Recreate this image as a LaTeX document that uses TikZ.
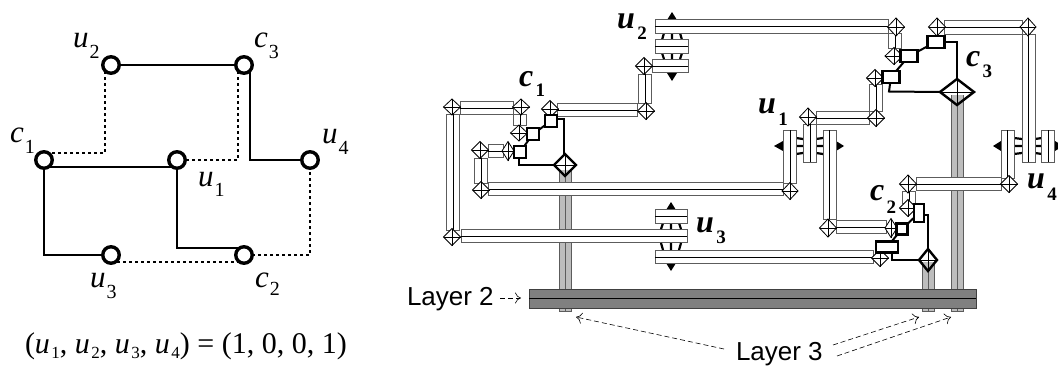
\documentclass[tikz,border=0pt]{standalone}
\usepackage{fontspec}
\setmainfont{Liberation Serif}
\newfontfamily\arialf{Liberation Sans}
\usetikzlibrary{shapes.geometric,arrows.meta}
\definecolor{edgegray}{gray}{0.36}
\definecolor{pillargray}{gray}{0.74}
\definecolor{bargray}{gray}{0.5}
\tikzset{
  x=1pt,y=-1pt,
  every node/.style={inner sep=0pt,outer sep=0pt},
  vertexc/.style={circle,draw=black,fill=white,line width=3.4pt,minimum size=16.5pt},
  solidw/.style={line width=2pt,black},
  dotw/.style={line width=2pt,black,dash pattern=on 3.2pt off 2.8pt},
  wirebox/.style={draw=edgegray,fill=white,line width=1pt},
  wirecore/.style={draw=black,line width=0.9pt},
  viad/.style={diamond,draw=black,fill=white,line width=0.8pt,aspect=1},
  viat/.style={diamond,draw=black,fill=none,line width=2.4pt,aspect=1},
  crossl/.style={draw=black,line width=0.7pt},
  sq/.style={rectangle,draw=black,fill=white,line width=2.3pt},
  thickw/.style={draw=black,line width=2pt},
  link/.style={draw=black,line width=2.2pt},
  tag/.style={anchor=base west},
  lbl/.style={font=\arialf\fontsize{26}{26}\selectfont,anchor=base west},
  dasharrow/.style={draw=black,line width=0.6pt,dash pattern=on 5pt off 3pt,-{To[length=6pt,width=11pt]}},
}
\newcommand\wireH[3]{%
  \draw[wirebox] (#1,#3-6.7) rectangle (#2,#3+6.7);
  \draw[wirecore] (#1,#3) -- (#2,#3);}
\newcommand\wireV[3]{%
  \draw[wirebox] (#1-6.5,#2) rectangle (#1+6.5,#3);
  \draw[wirecore] (#1,#2) -- (#1,#3);}
\newcommand\via[5]{%
  \node[viad,minimum width=#4*2pt,minimum height=#5*2pt] (#1) at (#2,#3) {};
  \draw[crossl] (#1.north) -- (#1.south) (#1.west) -- (#1.east);}
\newcommand\tvia[5]{%
  \node[viat,minimum width=#4*2pt,minimum height=#5*2pt] (#1) at (#2,#3) {};
  \draw[crossl] (#1.north) -- (#1.south) (#1.west) -- (#1.east);}
\newcommand\pillar[3]{%
  \fill[pillargray] (#1-6,#2) rectangle (#1+6,#3);
  \draw[draw=edgegray,line width=0.9pt] (#1-6,#2) -- (#1-6,#3) -- (#1+6,#3) -- (#1+6,#2) (#1,#2) -- (#1,#3);}
\newcommand\linksV[5]{%
  \draw[link] (#1,#2) -- (#1,#3) (#1,#4) -- (#1,#5)
    (#1-8,#2) -- (#1-10,#3) (#1+8,#2) -- (#1+10,#3)
    (#1-10,#4) -- (#1-8,#5) (#1+10,#4) -- (#1+8,#5);}
\newcommand\linksH[5]{%
  \draw[link] (#2,#1) -- (#3,#1) (#4,#1) -- (#5,#1)
    (#2,#1-8) -- (#3,#1-7) (#2,#1+8) -- (#3,#1+7)
    (#4,#1-7) -- (#5,#1-8) (#4,#1+7) -- (#5,#1+8);}
\newcommand\tri[6]{\fill[black] (#1,#2) -- (#3,#4) -- (#5,#6) -- cycle;}
\newcommand\bigtag[6]{%
  \node[tag] (#1) at (#2,#3) {{\fontsize{32}{32}\selectfont\bfseries\itshape #4}\kern2.5pt\raisebox{-#6pt}{\fontsize{19}{19}\selectfont\bfseries #5}};}
\newcommand\smalltag[6]{%
  \node[tag] (#1) at (#2,#3) {{\fontsize{31}{31}\selectfont\itshape #4}\kern1pt\raisebox{-#6pt}{\fontsize{20}{20}\selectfont #5}};}
\newcommand\fu[1]{\textit{u}\kern1.5pt\raisebox{-5pt}{\fontsize{17}{17}\selectfont #1}}
\begin{document}
\begin{tikzpicture}
\useasboundingbox (0,0) rectangle (1058,367);
\clip (0,0) rectangle (1058,367);
\fill[white] (0,0) rectangle (1058,367);

%% ---------- left graph ----------
\coordinate (b1) at (250,160);
\coordinate (b2) at (44,255);
\coordinate (b3) at (177,248);
\coordinate (b4) at (105,153);
\coordinate (b5) at (238,160);
\coordinate (b6) at (310,255);
\coordinate (y1) at (0,167);
\coordinate (y2) at (0,262);
\coordinate (pu2) at (111,65);
\coordinate (pc3) at (244,65);
\coordinate (pc1) at (44,160);
\coordinate (pu1) at (177,160);
\coordinate (pu4) at (310,160);
\coordinate (pu3) at (111,255);
\coordinate (pc2) at (244,255);
\draw[solidw] (pu2) -- (pc3);
\draw[solidw] (pc3 -| b1) -- (b1) -- (pu4);
\draw[solidw] (pc1 |- y1) -- (pu1 |- y1);
\draw[solidw] (pc1) -- (b2) -- (pu3);
\draw[solidw] (pu1) -- (b3) -- (pc2 |- b3);
\draw[dotw] (pu2 -| b4) -- (b4) -- (pc1 |- b4);
\draw[dotw] (pc3 -| b5) -- (b5) -- (pu1);
\draw[dotw] (pu4) -- (b6) -- (pc2);
\draw[dotw] (pu3 |- y2) -- (pc2 |- y2);
\node[vertexc] (u2) at (pu2) {};
\node[vertexc] (c3) at (pc3) {};
\node[vertexc] (c1) at (pc1) {};
\node[vertexc] (u1) at (pu1) {};
\node[vertexc] (u4) at (pu4) {};
\node[vertexc] (u3) at (pu3) {};
\node[vertexc] (c2) at (pc2) {};
\smalltag{tu2}{73}{47}{u}{2}{11}
\smalltag{tc3}{254}{47}{c}{3}{11}
\smalltag{tc1}{10}{142}{c}{1}{11}
\smalltag{tu4}{322}{143}{u}{4}{11}
\smalltag{tu1}{198}{186}{u}{1}{10}
\smalltag{tu3}{90}{287}{u}{3}{11}
\smalltag{tc2}{255}{287}{c}{2}{8}
\node[tag,font=\fontsize{30}{30}\selectfont] (eqn) at (25,353) {(\fu{1}, \fu{2}, \fu{3}, \fu{4}) = (1, 0, 0, 1)};

%% ---------- right layout ----------
\pillar{565}{170}{311}
\pillar{928}{262}{311}
\pillar{957}{95}{311}
\draw[fill=bargray,draw=black!75,line width=0.9pt] (529,289) rectangle (976,308);
\draw[black,line width=0.9pt] (529,298.5) -- (976,298.5);

\wireV{453}{114}{230}
\wireH{460}{513}{108}
\wireV{520}{114}{125}
\wireH{488}{503}{151}
\wireV{481}{158}{183}
\wireH{488}{783}{189}
\wireH{461}{687}{236}
\wireH{557}{637}{110}
\wireV{645}{74}{103}
\wireH{652}{688}{66}
\linksV{672}{33}{40}{53}{59}
\tri{667}{20}{672}{12}{677}{20}
\tri{667}{73}{672}{81}{677}{73}
\wireH{655}{688}{46.5}
\wireH{655}{888}{26.5}
\wireV{895}{33}{48}
\linksV{671}{223}{229}{243}{250}
\tri{666}{210}{671}{202}{676}{210}
\tri{666}{263}{671}{271}{676}{263}
\wireH{655}{687}{216.5}
\wireH{655}{873}{257}
\linksH{146}{796}{803}{816}{823}
\tri{783}{141}{774}{146}{783}{151}
\tri{836}{141}{844}{146}{836}{151}
\wireV{790}{130}{183}
\wireV{810}{124}{162}
\wireV{829.5}{130}{219}
\wireH{816}{869}{118}
\wireV{876}{84}{111}
\wireH{836}{886}{227}
\linksH{146}{1014}{1022}{1035}{1042}
\tri{1001}{141}{993}{146}{1001}{151}
\tri{1055}{141}{1063}{146}{1055}{151}
\wireV{1007.5}{130}{178}
\wireV{1028.5}{34}{162}
\wireV{1048}{130}{162}
\wireH{944}{1022}{27.5}
\wireH{916}{1001}{184}
\wireV{909}{191}{203}

\via{v1}{452}{107}{8.5}{8}
\via{v2}{521}{107}{8.5}{8}
\via{v3}{519}{133}{8.5}{8}
\via{v4}{452}{237}{8.5}{8.5}
\via{v5}{480}{150}{8.5}{8.5}
\via{v6}{508}{151}{6}{9.5}
\via{v7}{481}{190}{8.5}{8.5}
\via{v8}{550}{109}{8.5}{8.5}
\via{v9}{646}{111}{8.5}{8.5}
\via{v10}{644}{66}{8.5}{8.5}
\via{v11}{896}{27}{8.5}{9}
\via{v12}{894}{56}{9}{8.5}
\via{v13}{937}{27}{8.5}{9}
\via{v14}{1028}{27}{8}{9}
\via{v15}{875}{78}{8.5}{8.5}
\via{v16}{876}{118}{8.5}{8.5}
\via{v17}{808}{117}{8.5}{9}
\via{v18}{790}{191}{8}{8.5}
\via{v19}{828}{228}{8.5}{9}
\via{v20}{891}{228}{6}{9.5}
\via{v21}{880}{258}{8.5}{8.5}
\via{v22}{908}{184}{8.5}{9}
\via{v23}{1009}{184}{8.5}{8.5}
\via{v24}{908}{208}{8.5}{8.5}

\tvia{t1}{565}{165}{11}{11}
\coordinate (k1a) at (564,119);
\coordinate (k1b) at (519,165);
\draw[thickw] (551,119) -- (k1a) -- (k1a |- t1.north);
\draw[thickw] (519,152) -- (k1b) -- (t1.west);
\draw[thickw] (551,121) -- (533,134) -- (520,152);
\node[sq,minimum width=12pt,minimum height=12pt] (s1a) at (551,121) {};
\node[sq,minimum width=12pt,minimum height=12pt] (s1b) at (533,134) {};
\node[sq,minimum width=12pt,minimum height=12pt] (s1c) at (520,152) {};

\tvia{t2}{928}{260}{9}{11}
\coordinate (k2a) at (928,215);
\coordinate (k2b) at (892,260);
\draw[thickw] (919,215) -- (k2a) -- (t2.north);
\draw[thickw] (892,247) -- (k2b) -- (t2.west);
\draw[thickw] (919,213) -- (902,229) -- (887,247);
\node[sq,minimum width=10pt,minimum height=18pt] (s2a) at (919,213) {};
\node[sq,minimum width=11pt,minimum height=11pt] (s2b) at (902,229) {};
\node[sq,minimum width=22pt,minimum height=11pt] (s2c) at (887,247) {};

\tvia{t3}{957}{92}{17}{13}
\coordinate (k3a) at (957,42);
\coordinate (k3b) at (889,91.5);
\draw[thickw] (936,42) -- (k3a) -- (t3.north);
\draw[thickw] (891,77) -- (k3b) -- (t3.west);
\draw[thickw] (936,42) -- (909,56) -- (891,77);
\node[sq,minimum width=17pt,minimum height=12pt] (s3a) at (936,42) {};
\node[sq,minimum width=17pt,minimum height=12pt] (s3b) at (909,56) {};
\node[sq,minimum width=17pt,minimum height=12pt] (s3c) at (891,77) {};

\bigtag{ru2}{617}{28}{u}{2}{11}
\bigtag{ru1}{758}{113}{u}{1}{12}
\bigtag{rc1}{519}{86}{c}{1}{10}
\bigtag{rc3}{966}{66}{c}{3}{11}
\bigtag{ru3}{696}{232}{u}{3}{11}
\bigtag{rc2}{870}{200}{c}{2}{13}
\bigtag{ru4}{1027}{188}{u}{4}{12}

\node[lbl] (lay2) at (407,305) {Layer 2};
\node[lbl] (lay3) at (736,360) {Layer 3};
\coordinate (l2end) at (521,298);
\coordinate (l3a) at (576,317);
\coordinate (l3b) at (919,317);
\coordinate (l3c) at (951,317);
\coordinate (f1) at (724,349);
\coordinate (f2) at (833,345);
\coordinate (f3) at (837,356);
\coordinate (f4) at (500,298);
\draw[dasharrow] (f4) -- (l2end);
\draw[dasharrow] (f1) -- (l3a);
\draw[dasharrow] (f2) -- (l3b);
\draw[dasharrow] (f3) -- (l3c);
\end{tikzpicture}
\end{document}
